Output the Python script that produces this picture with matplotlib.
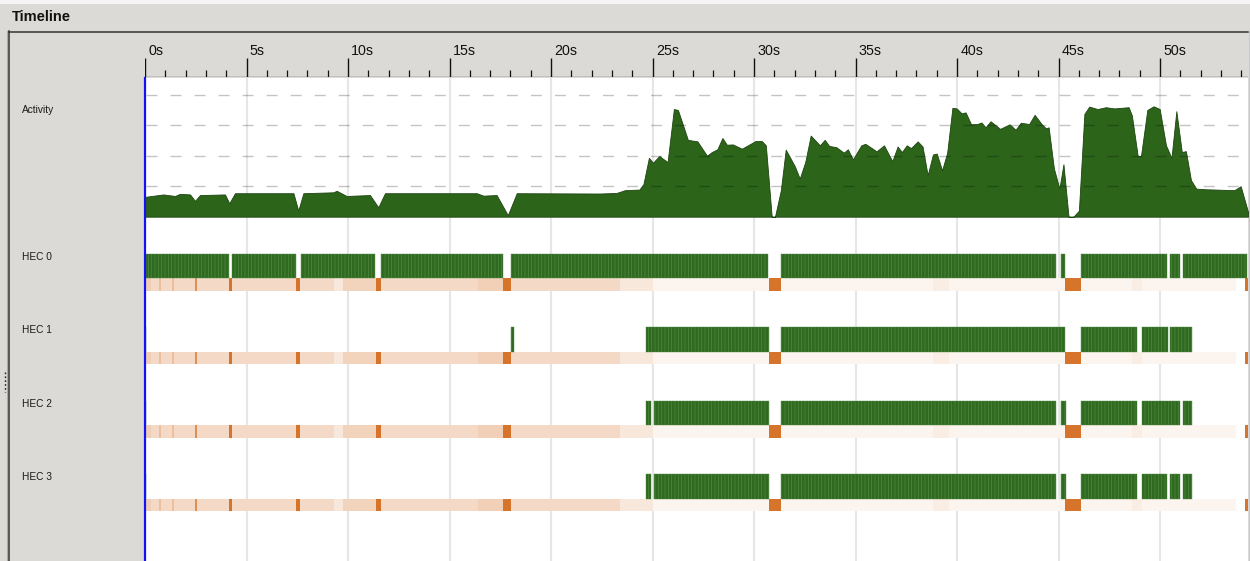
import matplotlib
matplotlib.use("Agg")
import matplotlib.pyplot as plt
from matplotlib.lines import Line2D
from matplotlib.patches import Rectangle
from matplotlib import transforms

plt.rcParams["font.family"] = ["Liberation Sans", "DejaVu Sans"]
plt.rcParams["lines.scale_dashes"] = False
plt.rcParams["hatch.linewidth"] = 0.45

# ---------------------------------------------------------------- data
T_END = 54.33                                   # visible span in seconds
major_ticks = [0, 5, 10, 15, 20, 25, 30, 35, 40, 45, 50]
major_labels = ["0s", "5s", "10s", "15s", "20s", "25s", "30s",
                "35s", "40s", "45s", "50s"]
minor_ticks = [s for s in range(0, 55) if s % 5]

# activity profile (number of busy capabilities over time)
act_t = [0.00, 0.90, 1.48, 1.72, 2.22, 2.46, 2.71, 3.94, 4.15, 4.43,
         7.31, 7.55, 7.80, 9.28, 9.44, 9.93, 11.08, 11.49, 11.82, 16.34,
         16.67, 17.32, 17.87, 18.31, 22.41, 23.23, 23.64, 24.35, 24.55, 24.82,
         25.02, 25.33, 25.74, 26.05, 26.25, 26.74, 27.21, 27.68, 27.92, 28.19,
         28.44, 28.66, 28.95, 29.40, 30.07, 30.38, 30.58, 30.87, 31.03, 31.32,
         31.56, 32.01, 32.25, 32.52, 32.79, 33.24, 33.48, 33.70, 34.05, 34.42,
         34.62, 34.87, 35.28, 35.48, 35.89, 36.03, 36.40, 36.81, 37.07, 37.28,
         37.52, 37.73, 38.06, 38.30, 38.55, 38.81, 39.00, 39.26, 39.51, 39.77,
         39.98, 40.22, 40.42, 40.69, 41.00, 41.20, 41.40, 41.65, 42.12, 42.59,
         42.88, 43.14, 43.55, 43.82, 44.16, 44.37, 44.51, 44.77, 45.04, 45.24,
         45.49, 45.73, 46.00, 46.27, 46.51, 46.92, 47.33, 47.74, 48.45, 48.61,
         48.90, 49.06, 49.37, 49.68, 49.98, 50.29, 50.56, 50.80, 51.07, 51.27,
         51.52, 51.78, 52.23, 53.66, 53.97, 54.33]
act_v = [0.65, 0.73, 0.68, 0.75, 0.73, 0.52, 0.71, 0.73, 0.44, 0.77,
         0.77, 0.20, 0.77, 0.80, 0.85, 0.68, 0.71, 0.31, 0.77, 0.77,
         0.69, 0.71, 0.05, 0.77, 0.76, 0.78, 0.87, 0.89, 1.07, 1.93,
         1.77, 1.99, 1.79, 3.53, 3.50, 2.52, 2.47, 2.00, 2.12, 2.21,
         2.58, 2.36, 2.37, 2.23, 2.48, 2.48, 2.34, 0.00, 0.00, 0.87,
         2.20, 1.65, 1.25, 1.79, 2.66, 2.34, 2.52, 2.32, 2.28, 2.10,
         2.21, 1.88, 2.34, 2.39, 2.21, 2.14, 2.34, 1.82, 2.30, 2.12,
         2.34, 2.25, 2.47, 2.30, 1.36, 2.04, 2.07, 1.52, 2.09, 3.57,
         3.55, 3.39, 3.42, 3.03, 3.04, 3.09, 2.93, 3.13, 2.88, 3.03,
         2.85, 3.08, 3.04, 3.34, 3.04, 2.90, 2.93, 1.58, 0.92, 1.72,
         0.00, 0.00, 0.20, 3.37, 3.61, 3.53, 3.59, 3.55, 3.59, 3.32,
         1.98, 2.00, 3.50, 3.62, 3.53, 2.34, 1.93, 3.46, 2.12, 2.15,
         1.20, 0.92, 0.90, 0.87, 1.00, 0.16]
act_levels = [1, 2, 3, 4]

hec_names = ["HEC 0", "HEC 1", "HEC 2", "HEC 3"]

# running intervals per capability (start, end) in seconds
hec0_run = [(0.05, 4.15), (4.29, 7.44), (7.67, 11.35), (11.63, 17.62),
            (18.03, 30.71), (31.35, 44.88), (45.14, 45.34), (46.09, 50.35),
            (50.49, 50.98), (51.13, 54.29)]
hec1_run = [(0.00, 0.06), (18.04, 18.19), (24.66, 30.72), (31.35, 45.34),
            (46.09, 48.88), (49.10, 50.37), (50.49, 51.56)]
hec2_run = [(0.00, 0.06), (24.66, 24.92), (25.07, 30.72), (31.34, 44.88),
            (45.14, 45.35), (46.10, 48.86), (49.10, 51.00), (51.15, 51.56)]
hec3_run = [(0.00, 0.06), (24.66, 24.90), (25.07, 30.72), (31.34, 44.88),
            (45.14, 45.35), (46.10, 48.86), (49.10, 50.35), (50.50, 51.00),
            (51.15, 51.56)]
hec_runs = [hec0_run, hec1_run, hec2_run, hec3_run]

# garbage-collection density (start, end, fraction of time in GC)
gc_density = [(0.00, 23.40, 0.27), (23.40, 25.00, 0.17), (25.00, 53.72, 0.08),
              (0.00, 0.30, 0.35), (0.70, 0.80, 0.45), (1.35, 1.45, 0.45),
              (9.30, 9.75, 0.17), (9.75, 11.38, 0.32), (16.40, 17.62, 0.34),
              (38.80, 39.60, 0.13), (48.60, 49.10, 0.13)]
# stop-the-world collections
gc_full = [(2.46, 2.54, 0.8), (4.15, 4.27, 1.0), (7.44, 7.64, 1.0),
           (11.38, 11.63, 1.0), (17.62, 18.03, 1.0), (30.72, 31.34, 1.0),
           (45.34, 46.10, 1.0), (54.16, 54.33, 1.0)]

# ---------------------------------------------------------------- style
W, H, DPI = 1250, 561, 100
BG = "#dcdad6"
GREEN_FILL = "#2c641a"
GREEN_BAR = "#2f6a20"
GREEN_STRIPE = "#4f8a40"
ORANGE = (0.835, 0.455, 0.165)
GRID = "#e6e6e6"


def px_rect(x0, y0, x1, y1):
    return [x0 / W, 1 - y1 / H, (x1 - x0) / W, (y1 - y0) / H]


def gc_colour(frac):
    return tuple(1 - frac * (1 - c) for c in ORANGE)


fig = plt.figure(figsize=(W / DPI, H / DPI), dpi=DPI, facecolor=BG)

# window chrome
chrome = fig.add_axes([0, 0, 1, 1], zorder=0)
chrome.set_xlim(0, W)
chrome.set_ylim(H, 0)
chrome.axis("off")
chrome.add_patch(Rectangle((0, 0), W, 4, color="#f4f4f4", lw=0))
chrome.text(12, 21, "Timeline", fontsize=10.5, fontweight="bold",
            va="baseline", ha="left", color="#111111")
chrome.add_line(Line2D([8, 1248], [31.5, 31.5], color="#333333", lw=1.1))
chrome.add_line(Line2D([7, 7], [31, H], color="#a9a9a9", lw=0.8))
chrome.add_line(Line2D([9.3, 9.3], [31, H], color="#333333", lw=1.1))
chrome.add_line(Line2D([1248.5, 1248.5], [31, H], color="#c8c8c8", lw=0.8))
chrome.add_line(Line2D([5, 5], [372, 392], color="#222222", lw=1.0,
                       linestyle=(0, (1.2, 1.6))))

# row captions
row_gap = 73.4
chrome.text(22, 110, "Activity", fontsize=7.3, va="center", ha="left",
            color="#1a1a1a")
for i, name in enumerate(hec_names):
    chrome.text(22, 257 + i * row_gap, name, fontsize=7.3, va="center",
                ha="left", color="#1a1a1a")

# time ruler
ruler = fig.add_axes(px_rect(145, 31, 1248, 77), zorder=2)
ruler.set_xlim(0, T_END)
ruler.set_ylim(0, 46)
ruler.axis("off")
ruler.vlines(major_ticks, 0, 19, color="#111111", lw=1.0)
ruler.vlines(minor_ticks, 0, 7, color="#111111", lw=0.9)
ruler.axhline(0.3, color="#111111", lw=0.9)
lab_tf = transforms.offset_copy(ruler.transData, fig=fig, x=2.4, y=0,
                                units="points")
for t, lab in zip(major_ticks, major_labels):
    ruler.text(t, 22.0, lab, transform=lab_tf, fontsize=10.3, ha="left",
               va="baseline", color="#111111")

# timeline body (y measured in pixels from the top of the body)
body = fig.add_axes(px_rect(145, 78, 1248, H), zorder=1)
body.set_facecolor("white")
body.set_xlim(0, T_END)
body.set_ylim(H - 78, 0)
body.axis("off")
body.add_patch(Rectangle((0, 0), 1, 1, transform=body.transAxes,
                         color="white", zorder=0))
for t in major_ticks[1:]:
    body.axvline(t, color=GRID, lw=1.5, zorder=1)

bar_top0, bar_h, band_h = 176.0, 24.3, 12.4
for i, runs in enumerate(hec_runs):
    top = bar_top0 + i * row_gap
    band_top = top + bar_h
    body.broken_barh([(a, b - a) for a, b, _ in gc_density], (band_top, band_h),
                     facecolors=[gc_colour(f) for _, _, f in gc_density],
                     lw=0, zorder=2)
    body.broken_barh([(a, b - a) for a, b, _ in gc_full], (band_top, band_h),
                     facecolors=[gc_colour(f) for _, _, f in gc_full],
                     lw=0, zorder=3)
    body.broken_barh([(a, b - a) for a, b in runs], (top, bar_h),
                     facecolors=GREEN_BAR, edgecolor=GREEN_STRIPE, lw=0.3,
                     hatch="|||||", zorder=4)

# activity graph
act = fig.add_axes(px_rect(145, 78, 1248, 216.7), zorder=2)
act.patch.set_alpha(0)
act.set_xlim(0, T_END)
act.set_ylim(0, (216.7 - 78) / 30.5)
act.axis("off")
act.fill_between(act_t, 0, act_v, color=GREEN_FILL, lw=0.6,
                 edgecolor="#1d4510", zorder=2)
act.hlines(act_levels, 0.05, T_END, colors="black", alpha=0.23, lw=1.0,
           linestyles=[(0, (7.9, 9.4))], zorder=3)

# cursor at the start of the trace
cursor_tf = transforms.blended_transform_factory(body.transData, fig.transFigure)
fig.add_artist(Line2D([0, 0], [0, 1 - 78 / H], transform=cursor_tf,
                      color="#1212f5", lw=1.6, zorder=5))

fig.savefig("out.png", dpi=DPI, facecolor=BG)
